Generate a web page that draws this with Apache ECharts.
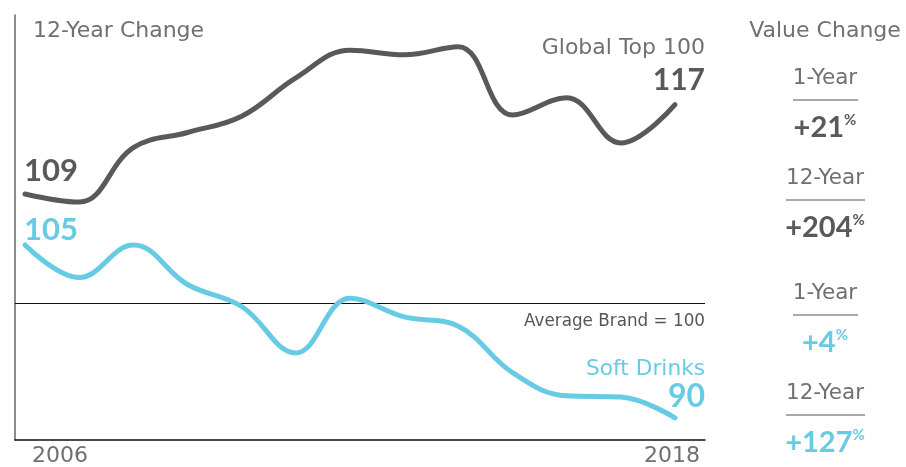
<!DOCTYPE html>
<html>
<head>
<meta charset="utf-8">
<script src="https://cdn.jsdelivr.net/npm/echarts@6/dist/echarts.min.js"></script>
<style>
  html, body { margin: 0; padding: 0; background: #fff; }
  #chart { width: 906px; height: 467px; }
</style>
</head>
<body>
<div id="chart"></div>
<script>
const years = [2006, 2007, 2008, 2009, 2010, 2011, 2012, 2013, 2014, 2015, 2016, 2017, 2018];
const globalTop100 = [109.4, 108.7, 113.4, 114.7, 116.1, 119.4, 121.8, 121.4, 122.1, 116.2, 117.7, 113.8, 117.1];
const softDrinks = [105.0, 102.2, 105.0, 101.6, 99.7, 95.7, 100.4, 98.8, 98.0, 94.0, 92.0, 91.9, 90.1];
const averageBrand = 100;
const changeLabels = ['1-Year', '12-Year', '1-Year', '12-Year'];
const changeValues = [21, 204, 4, 127];

const GRAY = '#58595b';
const CYAN = '#68cbe4';
const TEXT = '#707070';
const LABEL_FONT = '"DejaVu Sans", "Open Sans", sans-serif';
const NUM_FONT = 'Lato, "Open Sans", sans-serif';

const chart = echarts.init(document.getElementById('chart'));

const pairs = (vals) => vals.map((v, i) => [years[i], v]);

// right-hand panel: label, rule, value with small % sign
const panel = [];
const panelRows = [78, 178, 293, 393];
changeLabels.forEach((label, i) => {
  const y = panelRows[i];
  const wide = label.length > 6;
  const col = i < 2 ? GRAY : CYAN;
  panel.push({
    type: 'text', x: 825, y: y,
    style: { text: label, fill: TEXT, font: '21.5px ' + LABEL_FONT, align: 'center', verticalAlign: 'middle' },
  });
  panel.push({
    type: 'line',
    shape: { x1: wide ? 786 : 793, y1: y + 22, x2: wide ? 865 : 858, y2: y + 22 },
    style: { stroke: '#555', lineWidth: 1 },
  });
  panel.push({
    type: 'text', x: 825, y: y + 50,
    style: {
      text: '{a|+' + changeValues[i] + '}{b|%}',
      align: 'center', verticalAlign: 'middle',
      rich: {
        a: { fontFamily: NUM_FONT, fontWeight: 'bold', fontSize: 29, fill: col, lineHeight: 30 },
        b: { fontFamily: NUM_FONT, fontWeight: 'bold', fontSize: 15, fill: col, verticalAlign: 'top', lineHeight: 16 },
      },
    },
  });
});

const option = {
  animation: false,
  grid: { left: 15, right: 201, top: 15, bottom: 27 },
  xAxis: {
    type: 'value',
    min: 2005.815,
    max: 2018.554,
    axisLine: { show: true, lineStyle: { color: '#111', width: 1.5 } },
    axisTick: { show: false },
    axisLabel: { show: false },
    splitLine: { show: false },
  },
  yAxis: {
    type: 'value',
    min: 88.19,
    max: 124.83,
    axisLine: { show: true, lineStyle: { color: '#666', width: 1.5 } },
    axisTick: { show: false },
    axisLabel: { show: false },
    splitLine: { show: false },
  },
  series: [
    {
      name: 'Global Top 100',
      type: 'line',
      data: pairs(globalTop100),
      smooth: 0.4,
      showSymbol: false,
      lineStyle: { color: GRAY, width: 5, cap: 'round' },
      z: 3,
    },
    {
      name: 'Soft Drinks',
      type: 'line',
      data: pairs(softDrinks),
      smooth: 0.4,
      showSymbol: false,
      lineStyle: { color: CYAN, width: 5, cap: 'round' },
      z: 3,
      markLine: {
        silent: true,
        symbol: 'none',
        label: { show: false },
        lineStyle: { color: '#111', width: 1, type: 'solid' },
        data: [{ yAxis: averageBrand }],
        z: 1,
      },
    },
  ],
  graphic: [
    { type: 'text', x: 33, y: 31, style: { text: '12-Year Change', fill: TEXT, font: '22px ' + LABEL_FONT, verticalAlign: 'middle' } },
    { type: 'text', x: 24, y: 171, style: { text: String(Math.round(globalTop100[0])), fill: GRAY, font: 'bold 31px ' + NUM_FONT, verticalAlign: 'middle' } },
    { type: 'text', x: 24, y: 230, style: { text: String(Math.round(softDrinks[0])), fill: CYAN, font: 'bold 31px ' + NUM_FONT, verticalAlign: 'middle' } },
    { type: 'text', x: 705, y: 48, style: { text: 'Global Top 100', fill: TEXT, font: '22px ' + LABEL_FONT, align: 'right', verticalAlign: 'middle' } },
    { type: 'text', x: 705, y: 80, style: { text: String(Math.round(globalTop100[12])), fill: GRAY, font: 'bold 30px ' + NUM_FONT, align: 'right', verticalAlign: 'middle' } },
    { type: 'text', x: 705, y: 322, style: { text: 'Average Brand = ' + averageBrand, fill: '#555', font: '16.8px ' + LABEL_FONT, align: 'right', verticalAlign: 'middle' } },
    { type: 'text', x: 705, y: 369, style: { text: 'Soft Drinks', fill: CYAN, font: '21.7px ' + LABEL_FONT, align: 'right', verticalAlign: 'middle' } },
    { type: 'text', x: 705, y: 397, style: { text: String(Math.round(softDrinks[12])), fill: CYAN, font: 'bold 32px ' + NUM_FONT, align: 'right', verticalAlign: 'middle' } },
    { type: 'text', x: 32, y: 456, style: { text: String(years[0]), fill: TEXT, font: '22px ' + LABEL_FONT, verticalAlign: 'middle' } },
    { type: 'text', x: 700, y: 456, style: { text: String(years[12]), fill: TEXT, font: '22px ' + LABEL_FONT, align: 'right', verticalAlign: 'middle' } },
    { type: 'text', x: 825, y: 31, style: { text: 'Value Change', fill: TEXT, font: '22px ' + LABEL_FONT, align: 'center', verticalAlign: 'middle' } },
  ].concat(panel),
};

chart.setOption(option);
</script>
</body>
</html>
